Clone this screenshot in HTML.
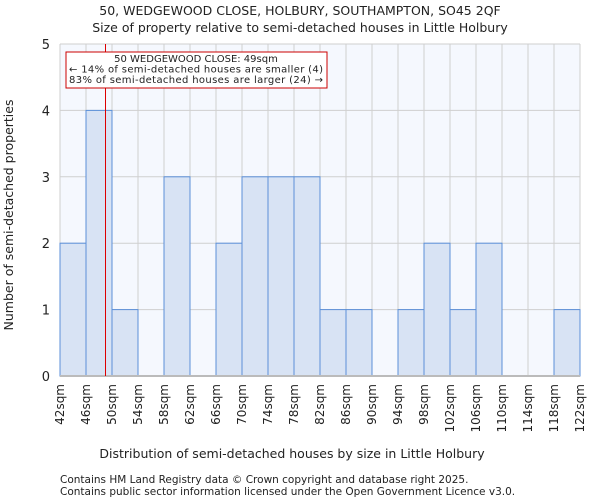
<!DOCTYPE html>
<html><head><meta charset="utf-8"><style>
body{margin:0;background:#fff;font-family:"DejaVu Sans","Liberation Sans",sans-serif;}
svg text{font-family:"DejaVu Sans","Liberation Sans",sans-serif;fill:#222;}
</style></head><body>
<svg id="chart" width="600" height="500">
<text x="300" y="15" text-anchor="middle" font-size="12.5">50, WEDGEWOOD CLOSE, HOLBURY, SOUTHAMPTON, SO45 2QF</text>
<text x="300" y="32" text-anchor="middle" font-size="12.5">Size of property relative to semi-detached houses in Little Holbury</text>
<g id="plot"></g>
<text x="292" y="458" text-anchor="middle" font-size="12.5">Distribution of semi-detached houses by size in Little Holbury</text>
<text transform="translate(13,215) rotate(-90)" text-anchor="middle" font-size="12.5">Number of semi-detached properties</text>
<text x="60" y="483" font-size="10.5" fill="#444">Contains HM Land Registry data © Crown copyright and database right 2025.</text>
<text x="60" y="495" font-size="10.5" fill="#444">Contains public sector information licensed under the Open Government Licence v3.0.</text>
</svg>
<script>
const binStarts=[42,46,50,54,58,62,66,70,74,78,82,86,90,94,98,102,106,110,114,118];
const counts=[2,4,1,0,3,0,2,3,3,3,1,1,0,1,2,1,2,0,0,1];
const yTicks=[0,1,2,3,4,5];
const binWidth=4;
const propertySize=49;
const NS="http://www.w3.org/2000/svg";
const L=60,R=580,T=44,B=376,xmin=42,xmax=122,ymax=5;
const xs=v=>L+(v-xmin)/(xmax-xmin)*(R-L);
const ys=v=>B-v/ymax*(B-T);
const g=document.getElementById('plot');
function mk(tag,attrs){const e=document.createElementNS(NS,tag);for(const k in attrs)e.setAttribute(k,attrs[k]);g.appendChild(e);return e;}
let bg=mk('rect',{x:L,y:T,width:R-L,height:B-T,fill:'#f5f8fe'});


for(let i=0;i<=binStarts.length;i++){const v=xmin+i*binWidth;
 let gl=mk('line',{x1:xs(v),x2:xs(v),y1:T,y2:B,stroke:'#cfcfcf','stroke-width':1});
 
 
 let t=mk('text',{transform:`translate(${xs(v)+4},384) rotate(-90)`,'text-anchor':'end','font-size':12});
 t.textContent=v+'sqm';
 
 
}
yTicks.forEach(v=>{
 let gl=mk('line',{x1:L,x2:R,y1:ys(v),y2:ys(v),stroke:'#cfcfcf','stroke-width':1});
 
 
 let t=mk('text',{x:50,y:ys(v)+5,'text-anchor':'end','font-size':13});
 t.textContent=v;
 
 
});
binStarts.forEach((s,i)=>{ if(counts[i]<=0)return;
 let r=mk('rect',{x:xs(s),y:ys(counts[i]),width:xs(s+binWidth)-xs(s),height:B-ys(counts[i]),fill:'#d8e3f4',stroke:'#5b8fd8','stroke-width':1});
 
 
});
let ax=mk('line',{x1:L,x2:R,y1:B,y2:B,stroke:'#bbb','stroke-width':2});


let rl=mk('line',{x1:xs(propertySize),x2:xs(propertySize),y1:T,y2:B,stroke:'#dd0000','stroke-width':1});


let box=mk('rect',{x:66,y:52,width:261,height:36,fill:'#fff',stroke:'#cc0000','stroke-width':1});


const lines=['50 WEDGEWOOD CLOSE: 49sqm','← 14% of semi-detached houses are smaller (4)','83% of semi-detached houses are larger (24) →'];
lines.forEach((s,i)=>{let t=mk('text',{x:i==0?196:69,y:62+i*10.5,'font-size':10,'text-anchor':i==0?'middle':'start',textLength:i==0?'':'254'});
 if(i==0)t.removeAttribute('textLength');
 t.textContent=s;
 
 });
</script>
</body></html>
